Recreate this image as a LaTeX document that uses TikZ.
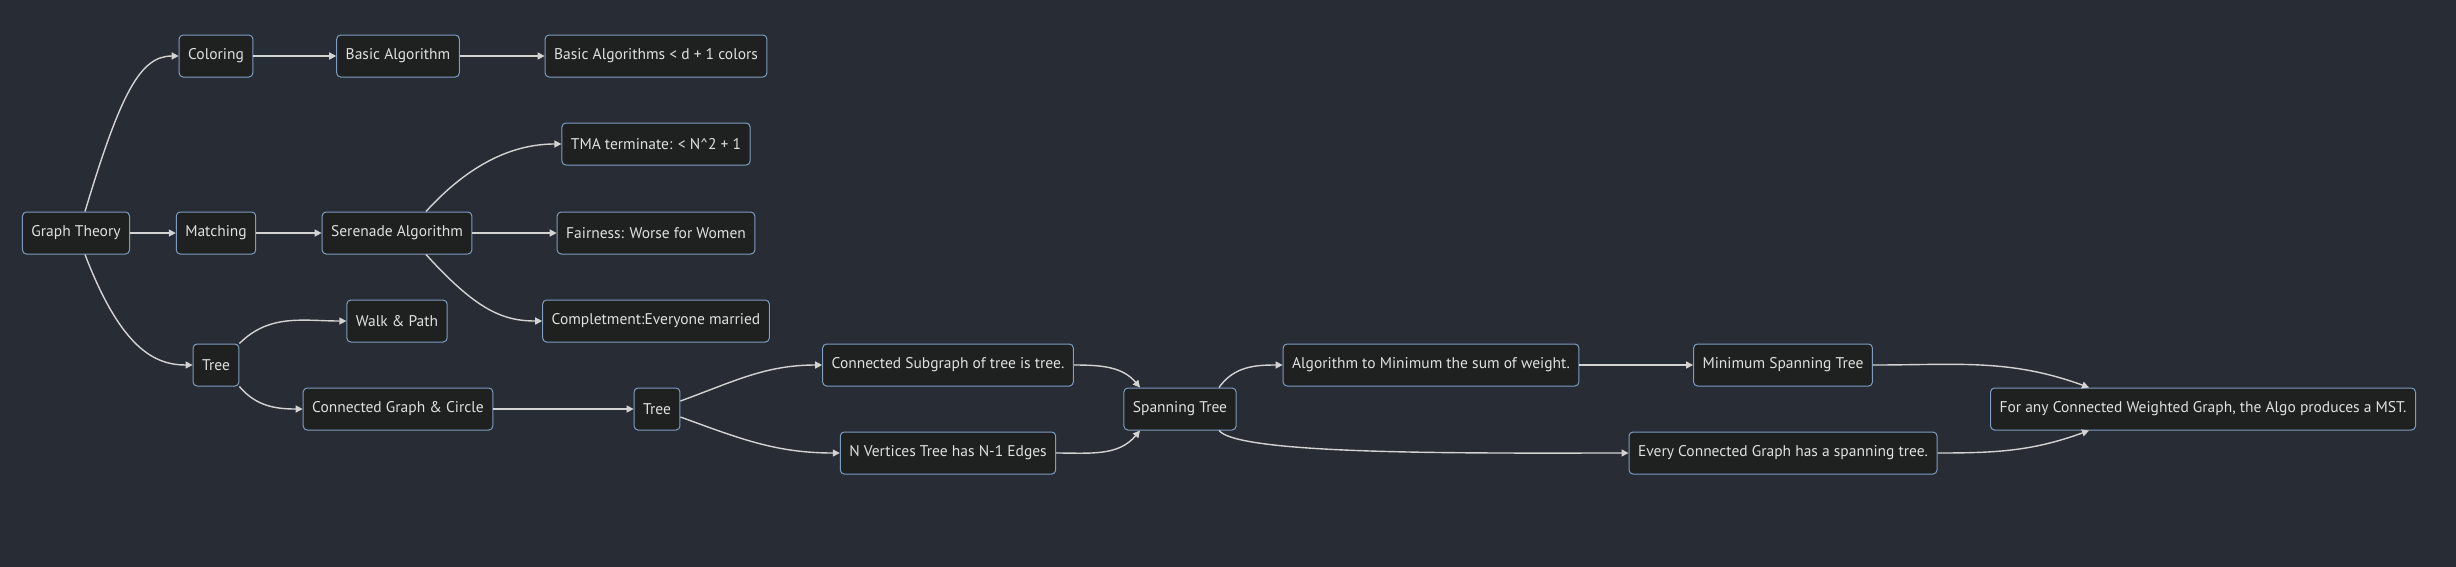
\documentclass[tikz,border=0pt]{standalone}
\usepackage{fontspec}
\setmainfont{PT Sans}
\usepackage{tikz}
\usetikzlibrary{shapes, positioning, arrows.meta}
\definecolor{bgcol}{HTML}{282C34}
\definecolor{boxfill}{HTML}{1F2020}
\definecolor{boxline}{HTML}{7E9DC2}
\definecolor{edgecol}{HTML}{D3D3D3}
\definecolor{txtcol}{HTML}{E0E0E0}

\begin{document}
\begin{tikzpicture}[x=1pt, y=-1pt]
    \tikzstyle{box}=[rectangle, draw=boxline, fill=boxfill, rounded corners=4pt, line width=1pt, text=txtcol, font=\fontsize{15.5}{18}\selectfont, minimum height=42pt, inner xsep=9pt]
    \tikzstyle{edge}=[draw=edgecol, line width=1.4pt, -{Triangle[length=7pt, width=7pt]}]
    \useasboundingbox (0,0) rectangle (2456,566);
    \fill [bgcol] (-4,-4) rectangle (2460,570);
    \node [box] (gt) at (76,233) {Graph Theory};
    \node [box] (col) at (216,56) {Coloring};
    \node [box] (basic) at (398,56) {Basic Algorithm};
    \node [box] (basicd) at (656,56) {Basic Algorithms < d + 1 colors};
    \node [box] (match) at (216,233) {Matching};
    \node [box] (ser) at (397,233) {Serenade Algorithm};
    \node [box] (tma) at (656,144) {TMA terminate: < N\^{}2 + 1};
    \node [box] (fair) at (656,233) {Fairness: Worse for Women};
    \node [box] (compl) at (656,321) {Completment:Everyone married};
    \node [box] (tree) at (216,365) {Tree};
    \node [box] (walk) at (397,321) {Walk \& Path};
    \node [box] (cgc) at (398,409) {Connected Graph \& Circle};
    \node [box] (treeb) at (657,409) {Tree};
    \node [box] (csub) at (948,365) {Connected Subgraph of tree is tree.};
    \node [box] (nvert) at (948,453) {N Vertices Tree has N-1 Edges};
    \node [box] (span) at (1180,409) {Spanning Tree};
    \node [box] (algo) at (1431,365) {Algorithm to Minimum the sum of weight.};
    \node [box] (mst) at (1783,365) {Minimum Spanning Tree};
    \node [box] (every) at (1783,453) {Every Connected Graph has a spanning tree.};
    \node [box] (forany) at (2203,409) {For any Connected Weighted Graph, the Algo produces a MST.};
    \draw [edge] ([xshift=9pt]gt.north) .. controls +(36,-120) and +(-38,0) .. (col.west);
    \draw [edge] (gt) -- (match);
    \draw [edge] ([xshift=9pt]gt.south) .. controls +(36,94) and +(-38,0) .. (tree.west);
    \draw [edge] (col) -- (basic);
    \draw [edge] (basic) -- (basicd);
    \draw [edge] (match) -- (ser);
    \draw [edge] ([xshift=29pt]ser.north) .. controls +(50,-55) and +(-40,0) .. (tma.west);
    \draw [edge] (ser) -- (fair);
    \draw [edge] ([xshift=29pt]ser.south) .. controls +(50,55) and +(-40,0) .. (compl.west);
    \draw [edge] (tree.north east) to[out=45, in=180] (walk.west);
    \draw [edge] (tree.south east) to[out=-50, in=180] (cgc.west);
    \draw [edge] (cgc) -- (treeb);
    \draw [edge] ([yshift=8pt]treeb.east) to[out=20, in=180] (csub.west);
    \draw [edge] ([yshift=-8pt]treeb.east) to[out=-20, in=180] (nvert.west);
    \draw [edge] (csub.east) to[out=0, in=130] ([xshift=-40pt]span.north);
    \draw [edge] (nvert.east) to[out=0, in=-130] ([xshift=-40pt]span.south);
    \draw [edge] ([xshift=39pt]span.north) to[out=55, in=180] (algo.west);
    \draw [edge] (algo) -- (mst);
    \draw [edge] ([xshift=39pt]span.south) .. controls +(20,25) and +(-150,0) .. (every.west);
    \draw [edge] (mst.east) to[out=0, in=160] ([xshift=-114pt]forany.north);
    \draw [edge] (every.east) to[out=0, in=-160] ([xshift=-114pt]forany.south);
\end{tikzpicture}
\end{document}
